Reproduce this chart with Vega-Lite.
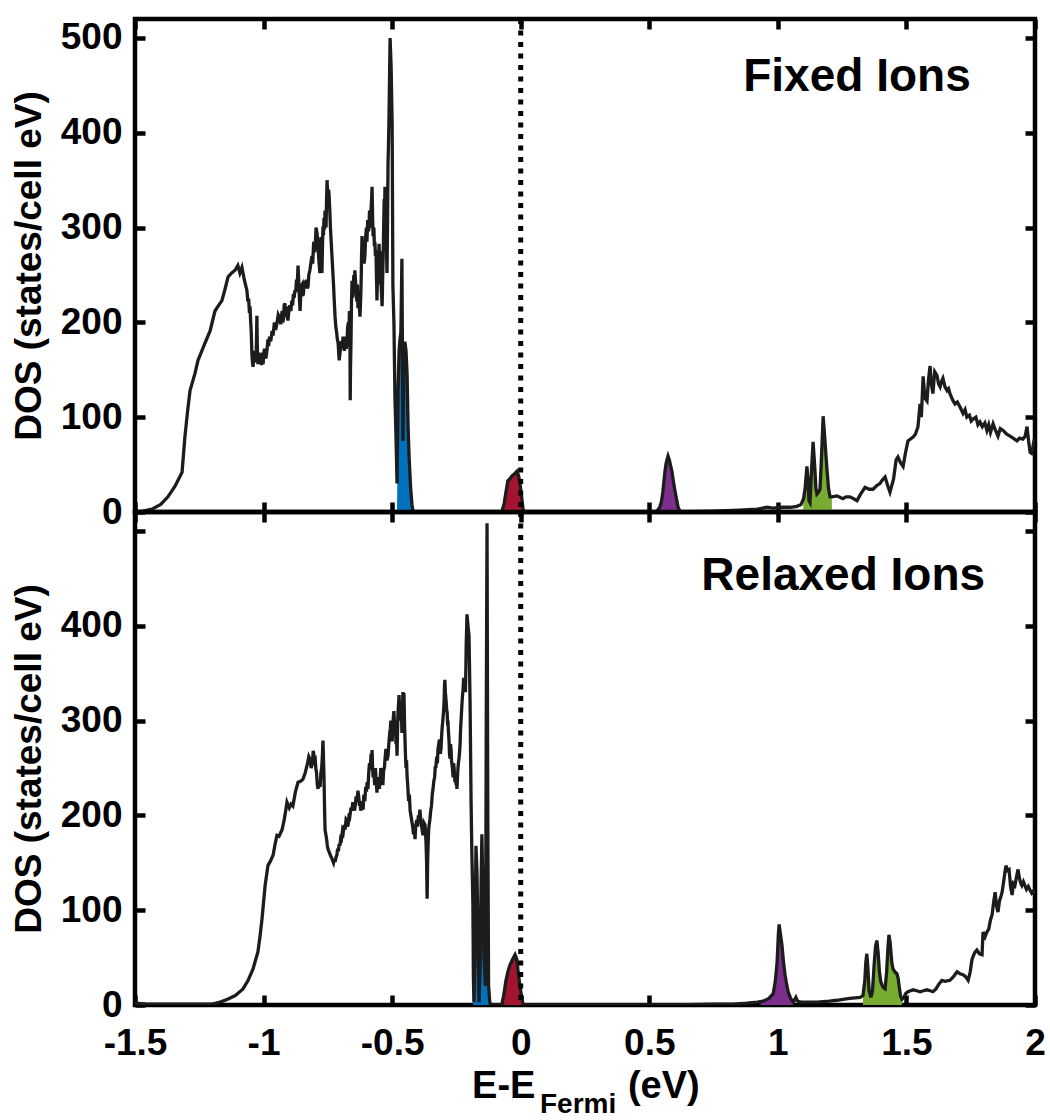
{
  "$schema": "https://vega.github.io/schema/vega-lite/v6.json",
  "background": "white",
  "padding": {"left": 8, "top": 14, "right": 12, "bottom": 8},
  "spacing": 0,
  "bounds": "flush",
  "config": {
    "concat": {"spacing": 0},
    "view": {"stroke": "black", "strokeWidth": 4.5},
    "font": "Liberation Sans",
    "axis": {
      "domain": false, "grid": false, "minExtent": 0,
      "tickColor": "black", "tickWidth": 4.5, "tickSize": 10, "offset": -10,
      "labelFont": "Liberation Sans", "labelFontSize": 37, "labelFontWeight": "bold", "labelColor": "black",
      "labelPadding": 13, "labelFlush": false, "labelOverlap": false,
      "titleFont": "Liberation Sans", "titleFontSize": 37, "titleFontWeight": "bold", "titleColor": "black"
    }
  },
  "datasets": {
    "fixed": [
      {"E":-1.5,"dos":0},{"E":-1.47,"dos":1},{"E":-1.434,"dos":3},{"E":-1.4,"dos":8},{"E":-1.372,"dos":16},{"E":-1.345,"dos":27},{"E":-1.317,"dos":42},{"E":-1.306,"dos":79},{"E":-1.296,"dos":105},{"E":-1.286,"dos":128},{"E":-1.267,"dos":146},{"E":-1.255,"dos":160},{"E":-1.24,"dos":170},{"E":-1.228,"dos":178},{"E":-1.208,"dos":191},{"E":-1.189,"dos":212},{"E":-1.175,"dos":218},{"E":-1.162,"dos":223},{"E":-1.15,"dos":235},{"E":-1.138,"dos":248},{"E":-1.125,"dos":252},{"E":-1.111,"dos":255},{"E":-1.1,"dos":260},{"E":-1.092,"dos":252},{"E":-1.084,"dos":258},{"E":-1.075,"dos":245},
      {"E":-1.065,"dos":234},{"E":-1.061,"dos":222},{"E":-1.058,"dos":225},{"E":-1.055,"dos":210},{"E":-1.053,"dos":217},{"E":-1.05,"dos":200},{"E":-1.048,"dos":190},{"E":-1.046,"dos":172},{"E":-1.045,"dos":164},{"E":-1.043,"dos":158},{"E":-1.041,"dos":153},{"E":-1.038,"dos":165},{"E":-1.036,"dos":158},{"E":-1.034,"dos":170},{"E":-1.031,"dos":158},{"E":-1.029,"dos":160},{"E":-1.026,"dos":207},{"E":-1.024,"dos":170},{"E":-1.022,"dos":156},{"E":-1.019,"dos":168},{"E":-1.016,"dos":158},{"E":-1.012,"dos":165},{"E":-1.008,"dos":155},{"E":-1.005,"dos":168},{"E":-1.002,"dos":156},{"E":-0.998,"dos":170},{"E":-0.995,"dos":172},{"E":-0.991,"dos":162},{"E":-0.987,"dos":170},{"E":-0.983,"dos":182},{"E":-0.98,"dos":175},{"E":-0.977,"dos":185},{"E":-0.972,"dos":180},{"E":-0.967,"dos":191},{"E":-0.963,"dos":186},{"E":-0.958,"dos":200},{"E":-0.953,"dos":192},{"E":-0.948,"dos":199},{"E":-0.943,"dos":208},{"E":-0.938,"dos":205},{"E":-0.933,"dos":198},{"E":-0.928,"dos":212},{"E":-0.925,"dos":200},{"E":-0.922,"dos":205},{"E":-0.92,"dos":218},{"E":-0.917,"dos":220},{"E":-0.914,"dos":210},{"E":-0.91,"dos":212},{"E":-0.907,"dos":205},{"E":-0.905,"dos":202},{"E":-0.901,"dos":214},{"E":-0.898,"dos":218},{"E":-0.894,"dos":212},{"E":-0.89,"dos":223},{"E":-0.887,"dos":218},{"E":-0.884,"dos":230},{"E":-0.881,"dos":226},{"E":-0.878,"dos":234},{"E":-0.875,"dos":232},{"E":-0.872,"dos":245},{"E":-0.869,"dos":240},{"E":-0.866,"dos":260},{"E":-0.864,"dos":248},{"E":-0.862,"dos":235},{"E":-0.86,"dos":222},{"E":-0.858,"dos":212},{"E":-0.854,"dos":238},{"E":-0.85,"dos":240},{"E":-0.848,"dos":228},{"E":-0.845,"dos":230},{"E":-0.842,"dos":244},{"E":-0.839,"dos":238},{"E":-0.836,"dos":236},{"E":-0.833,"dos":245},{"E":-0.83,"dos":236},{"E":-0.827,"dos":238},{"E":-0.824,"dos":250},{"E":-0.82,"dos":255},{"E":-0.816,"dos":262},{"E":-0.812,"dos":270},{"E":-0.809,"dos":262},{"E":-0.805,"dos":285},{"E":-0.802,"dos":274},{"E":-0.799,"dos":280},{"E":-0.796,"dos":300},{"E":-0.792,"dos":294},{"E":-0.789,"dos":282},{"E":-0.786,"dos":270},{"E":-0.784,"dos":262},{"E":-0.781,"dos":252},{"E":-0.779,"dos":270},{"E":-0.777,"dos":290},{"E":-0.775,"dos":270},{"E":-0.773,"dos":252},{"E":-0.771,"dos":280},{"E":-0.769,"dos":301},{"E":-0.767,"dos":292},{"E":-0.765,"dos":310},{"E":-0.763,"dos":298},{"E":-0.761,"dos":318},{"E":-0.759,"dos":310},{"E":-0.757,"dos":300},{"E":-0.755,"dos":330},{"E":-0.753,"dos":350},{"E":-0.751,"dos":335},{"E":-0.749,"dos":330},{"E":-0.747,"dos":340},{"E":-0.745,"dos":333},{"E":-0.742,"dos":315},{"E":-0.74,"dos":300},{"E":-0.737,"dos":285},{"E":-0.734,"dos":270},{"E":-0.731,"dos":255},{"E":-0.728,"dos":240},{"E":-0.725,"dos":222},{"E":-0.722,"dos":206},{"E":-0.719,"dos":195},{"E":-0.716,"dos":190},{"E":-0.713,"dos":182},{"E":-0.71,"dos":178},{"E":-0.708,"dos":168},{"E":-0.706,"dos":160},{"E":-0.703,"dos":167},{"E":-0.7,"dos":176},{"E":-0.697,"dos":180},{"E":-0.694,"dos":172},{"E":-0.691,"dos":185},{"E":-0.688,"dos":178},{"E":-0.686,"dos":170},{"E":-0.683,"dos":185},{"E":-0.68,"dos":182},{"E":-0.678,"dos":172},{"E":-0.676,"dos":178},{"E":-0.673,"dos":195},{"E":-0.67,"dos":200},{"E":-0.668,"dos":190},{"E":-0.666,"dos":212},{"E":-0.664,"dos":180},{"E":-0.663,"dos":118},{"E":-0.662,"dos":150},{"E":-0.66,"dos":180},{"E":-0.658,"dos":222},{"E":-0.656,"dos":244},{"E":-0.654,"dos":226},{"E":-0.652,"dos":234},{"E":-0.649,"dos":250},{"E":-0.647,"dos":240},{"E":-0.645,"dos":255},{"E":-0.642,"dos":242},{"E":-0.64,"dos":230},{"E":-0.637,"dos":222},{"E":-0.635,"dos":240},{"E":-0.633,"dos":215},{"E":-0.629,"dos":222},{"E":-0.625,"dos":206},{"E":-0.622,"dos":228},{"E":-0.62,"dos":250},{"E":-0.619,"dos":270},{"E":-0.617,"dos":291},{"E":-0.615,"dos":272},{"E":-0.612,"dos":280},{"E":-0.609,"dos":262},{"E":-0.606,"dos":270},{"E":-0.603,"dos":290},{"E":-0.6,"dos":300},{"E":-0.598,"dos":285},{"E":-0.595,"dos":308},{"E":-0.592,"dos":296},{"E":-0.59,"dos":300},{"E":-0.588,"dos":318},{"E":-0.586,"dos":312},{"E":-0.584,"dos":300},{"E":-0.582,"dos":320},{"E":-0.58,"dos":330},{"E":-0.578,"dos":343},{"E":-0.576,"dos":310},{"E":-0.574,"dos":291},{"E":-0.571,"dos":300},{"E":-0.569,"dos":280},{"E":-0.567,"dos":285},{"E":-0.565,"dos":270},{"E":-0.563,"dos":276},{"E":-0.561,"dos":250},{"E":-0.559,"dos":223},{"E":-0.557,"dos":250},{"E":-0.555,"dos":240},{"E":-0.553,"dos":265},{"E":-0.551,"dos":283},{"E":-0.549,"dos":265},{"E":-0.547,"dos":275},{"E":-0.545,"dos":255},{"E":-0.543,"dos":240},{"E":-0.541,"dos":228},{"E":-0.539,"dos":217},{"E":-0.537,"dos":245},{"E":-0.535,"dos":270},{"E":-0.533,"dos":300},{"E":-0.531,"dos":330},{"E":-0.529,"dos":320},{"E":-0.528,"dos":343},{"E":-0.526,"dos":325},{"E":-0.524,"dos":300},{"E":-0.522,"dos":280},{"E":-0.52,"dos":252},{"E":-0.518,"dos":300},{"E":-0.516,"dos":368},{"E":-0.514,"dos":390},{"E":-0.512,"dos":420},{"E":-0.51,"dos":460},{"E":-0.508,"dos":500},{"E":-0.504,"dos":470},{"E":-0.5,"dos":410},{"E":-0.497,"dos":238},{"E":-0.493,"dos":199},{"E":-0.489,"dos":120},{"E":-0.485,"dos":80},{"E":-0.481,"dos":30},{"E":-0.477,"dos":128},{"E":-0.473,"dos":170},{"E":-0.47,"dos":181},{"E":-0.466,"dos":190},{"E":-0.462,"dos":267},{"E":-0.458,"dos":75},{"E":-0.454,"dos":178},{"E":-0.45,"dos":178},{"E":-0.446,"dos":170},{"E":-0.442,"dos":146},{"E":-0.438,"dos":90},{"E":-0.434,"dos":58},{"E":-0.428,"dos":25},{"E":-0.423,"dos":8},{"E":-0.419,"dos":1},{"E":-0.41,"dos":0},{"E":-0.08,"dos":0},{"E":-0.073,"dos":1},{"E":-0.065,"dos":8},{"E":-0.058,"dos":20},{"E":-0.05,"dos":33},{"E":-0.042,"dos":35},{"E":-0.034,"dos":38},{"E":-0.025,"dos":40},{"E":-0.015,"dos":43},{"E":-0.008,"dos":38},{"E":-0.003,"dos":30},{"E":0.004,"dos":15},{"E":0.009,"dos":3},{"E":0.015,"dos":0},{"E":0.52,"dos":0},{"E":0.53,"dos":1},{"E":0.541,"dos":5},{"E":0.548,"dos":12},{"E":0.553,"dos":22},{"E":0.561,"dos":43},{"E":0.566,"dos":52},{"E":0.573,"dos":59},{"E":0.578,"dos":55},{"E":0.582,"dos":50},{"E":0.588,"dos":43},{"E":0.594,"dos":32},{"E":0.6,"dos":22},{"E":0.607,"dos":12},{"E":0.612,"dos":5},{"E":0.619,"dos":1},{"E":0.63,"dos":0},{"E":0.75,"dos":1},{"E":0.85,"dos":2},{"E":0.92,"dos":3},{"E":0.958,"dos":5},{"E":0.98,"dos":4},{"E":1.02,"dos":5},{"E":1.05,"dos":5},{"E":1.074,"dos":6},{"E":1.09,"dos":8},{"E":1.1,"dos":14},{"E":1.106,"dos":25},{"E":1.113,"dos":48},{"E":1.118,"dos":30},{"E":1.121,"dos":12},{"E":1.125,"dos":10},{"E":1.13,"dos":40},{"E":1.137,"dos":74},{"E":1.143,"dos":50},{"E":1.148,"dos":25},{"E":1.152,"dos":19},{"E":1.158,"dos":21},{"E":1.164,"dos":24},{"E":1.17,"dos":60},{"E":1.176,"dos":101},{"E":1.182,"dos":80},{"E":1.187,"dos":60},{"E":1.191,"dos":45},{"E":1.197,"dos":25},{"E":1.203,"dos":16},{"E":1.21,"dos":16},{"E":1.23,"dos":17},{"E":1.245,"dos":15},{"E":1.253,"dos":14},{"E":1.265,"dos":16},{"E":1.28,"dos":16},{"E":1.295,"dos":14},{"E":1.308,"dos":12},{"E":1.32,"dos":18},{"E":1.339,"dos":26},{"E":1.355,"dos":24},{"E":1.37,"dos":24},{"E":1.385,"dos":28},{"E":1.397,"dos":30},{"E":1.407,"dos":34},{"E":1.417,"dos":37},{"E":1.427,"dos":28},{"E":1.436,"dos":21},{"E":1.45,"dos":35},{"E":1.46,"dos":55},{"E":1.467,"dos":58},{"E":1.477,"dos":52},{"E":1.487,"dos":48},{"E":1.496,"dos":62},{"E":1.506,"dos":75},{"E":1.516,"dos":77},{"E":1.526,"dos":79},{"E":1.535,"dos":82},{"E":1.545,"dos":90},{"E":1.55,"dos":105},{"E":1.553,"dos":114},{"E":1.558,"dos":100},{"E":1.565,"dos":143},{"E":1.572,"dos":120},{"E":1.58,"dos":117},{"E":1.586,"dos":140},{"E":1.592,"dos":154},{"E":1.597,"dos":135},{"E":1.603,"dos":125},{"E":1.61,"dos":148},{"E":1.619,"dos":144},{"E":1.625,"dos":135},{"E":1.631,"dos":132},{"E":1.637,"dos":138},{"E":1.642,"dos":141},{"E":1.65,"dos":132},{"E":1.658,"dos":128},{"E":1.664,"dos":130},{"E":1.669,"dos":125},{"E":1.68,"dos":118},{"E":1.689,"dos":114},{"E":1.698,"dos":116},{"E":1.708,"dos":111},{"E":1.72,"dos":104},{"E":1.728,"dos":108},{"E":1.735,"dos":100},{"E":1.745,"dos":102},{"E":1.752,"dos":96},{"E":1.759,"dos":98},{"E":1.77,"dos":100},{"E":1.778,"dos":92},{"E":1.786,"dos":95},{"E":1.795,"dos":90},{"E":1.805,"dos":94},{"E":1.813,"dos":86},{"E":1.82,"dos":92},{"E":1.827,"dos":84},{"E":1.837,"dos":93},{"E":1.845,"dos":87},{"E":1.856,"dos":80},{"E":1.865,"dos":88},{"E":1.876,"dos":86},{"E":1.89,"dos":82},{"E":1.903,"dos":80},{"E":1.915,"dos":78},{"E":1.93,"dos":75},{"E":1.94,"dos":78},{"E":1.953,"dos":77},{"E":1.962,"dos":80},{"E":1.969,"dos":90},{"E":1.975,"dos":75},{"E":1.981,"dos":63},{"E":1.986,"dos":62},{"E":1.992,"dos":69},{"E":1.996,"dos":75},{"E":2.0,"dos":75}
    ],
    "fixedBands": [
      {"E":-0.481,"dos":0,"band":"blue"},{"E":-0.479,"dos":60,"band":"blue"},{"E":-0.477,"dos":128,"band":"blue"},{"E":-0.472,"dos":165,"band":"blue"},{"E":-0.466,"dos":175,"band":"blue"},{"E":-0.46,"dos":180,"band":"blue"},{"E":-0.454,"dos":178,"band":"blue"},{"E":-0.448,"dos":165,"band":"blue"},{"E":-0.442,"dos":140,"band":"blue"},{"E":-0.436,"dos":85,"band":"blue"},{"E":-0.43,"dos":40,"band":"blue"},{"E":-0.424,"dos":12,"band":"blue"},{"E":-0.419,"dos":0,"band":"blue"},
      {"E":-0.075,"dos":0,"band":"red"},{"E":-0.065,"dos":8,"band":"red"},{"E":-0.058,"dos":20,"band":"red"},{"E":-0.05,"dos":33,"band":"red"},{"E":-0.042,"dos":35,"band":"red"},{"E":-0.034,"dos":38,"band":"red"},{"E":-0.025,"dos":40,"band":"red"},{"E":-0.015,"dos":43,"band":"red"},{"E":-0.008,"dos":38,"band":"red"},{"E":-0.003,"dos":30,"band":"red"},{"E":0.004,"dos":15,"band":"red"},{"E":0.009,"dos":3,"band":"red"},{"E":0.012,"dos":0,"band":"red"},
      {"E":0.53,"dos":0,"band":"purple"},{"E":0.541,"dos":5,"band":"purple"},{"E":0.548,"dos":12,"band":"purple"},{"E":0.553,"dos":22,"band":"purple"},{"E":0.561,"dos":43,"band":"purple"},{"E":0.566,"dos":52,"band":"purple"},{"E":0.573,"dos":59,"band":"purple"},{"E":0.578,"dos":55,"band":"purple"},{"E":0.582,"dos":50,"band":"purple"},{"E":0.588,"dos":43,"band":"purple"},{"E":0.594,"dos":32,"band":"purple"},{"E":0.6,"dos":22,"band":"purple"},{"E":0.607,"dos":12,"band":"purple"},{"E":0.612,"dos":5,"band":"purple"},{"E":0.619,"dos":0,"band":"purple"},
      {"E":1.098,"dos":0,"band":"green"},{"E":1.1,"dos":14,"band":"green"},{"E":1.106,"dos":25,"band":"green"},{"E":1.113,"dos":48,"band":"green"},{"E":1.118,"dos":30,"band":"green"},{"E":1.121,"dos":12,"band":"green"},{"E":1.125,"dos":10,"band":"green"},{"E":1.13,"dos":40,"band":"green"},{"E":1.137,"dos":74,"band":"green"},{"E":1.143,"dos":50,"band":"green"},{"E":1.148,"dos":25,"band":"green"},{"E":1.152,"dos":19,"band":"green"},{"E":1.158,"dos":21,"band":"green"},{"E":1.164,"dos":24,"band":"green"},{"E":1.17,"dos":60,"band":"green"},{"E":1.176,"dos":101,"band":"green"},{"E":1.182,"dos":80,"band":"green"},{"E":1.187,"dos":60,"band":"green"},{"E":1.191,"dos":45,"band":"green"},{"E":1.197,"dos":25,"band":"green"},{"E":1.203,"dos":16,"band":"green"},{"E":1.21,"dos":16,"band":"green"}
    ],
    "relaxed": [
      {"E":-1.5,"dos":2},{"E":-1.45,"dos":1},{"E":-1.35,"dos":1},{"E":-1.25,"dos":1},{"E":-1.2,"dos":1},{"E":-1.169,"dos":3},{"E":-1.14,"dos":6},{"E":-1.11,"dos":10},{"E":-1.08,"dos":17},{"E":-1.06,"dos":26},{"E":-1.041,"dos":38},{"E":-1.022,"dos":56},{"E":-1.014,"dos":72},{"E":-1.006,"dos":91},{"E":-0.994,"dos":126},{"E":-0.983,"dos":147},{"E":-0.973,"dos":152},{"E":-0.963,"dos":158},{"E":-0.955,"dos":170},{"E":-0.948,"dos":179},{"E":-0.94,"dos":178},{"E":-0.928,"dos":185},{"E":-0.92,"dos":195},{"E":-0.914,"dos":205},{"E":-0.909,"dos":214},{"E":-0.9,"dos":208},{"E":-0.893,"dos":212},{"E":-0.886,"dos":210},{"E":-0.876,"dos":225},{"E":-0.866,"dos":235},{"E":-0.856,"dos":236},{"E":-0.847,"dos":238},{"E":-0.838,"dos":245},
      {"E":-0.829,"dos":255},{"E":-0.824,"dos":262},{"E":-0.819,"dos":259},{"E":-0.815,"dos":250},{"E":-0.81,"dos":255},{"E":-0.807,"dos":268},{"E":-0.805,"dos":265},{"E":-0.802,"dos":255},{"E":-0.8,"dos":263},{"E":-0.797,"dos":250},{"E":-0.794,"dos":245},{"E":-0.791,"dos":232},{"E":-0.788,"dos":228},{"E":-0.784,"dos":236},{"E":-0.78,"dos":230},{"E":-0.777,"dos":245},{"E":-0.774,"dos":250},{"E":-0.771,"dos":265},{"E":-0.769,"dos":279},{"E":-0.767,"dos":260},{"E":-0.765,"dos":240},{"E":-0.763,"dos":210},{"E":-0.761,"dos":185},{"E":-0.758,"dos":180},{"E":-0.755,"dos":175},{"E":-0.752,"dos":168},{"E":-0.749,"dos":164},{"E":-0.746,"dos":162},{"E":-0.743,"dos":160},{"E":-0.739,"dos":157},{"E":-0.735,"dos":155},{"E":-0.731,"dos":152},{"E":-0.728,"dos":150},{"E":-0.725,"dos":154},{"E":-0.722,"dos":151},{"E":-0.718,"dos":156},{"E":-0.715,"dos":158},{"E":-0.712,"dos":165},{"E":-0.709,"dos":162},{"E":-0.706,"dos":170},{"E":-0.703,"dos":168},{"E":-0.7,"dos":176},{"E":-0.697,"dos":175},{"E":-0.693,"dos":184},{"E":-0.69,"dos":182},{"E":-0.686,"dos":190},{"E":-0.683,"dos":185},{"E":-0.679,"dos":196},{"E":-0.676,"dos":195},{"E":-0.673,"dos":188},{"E":-0.67,"dos":192},{"E":-0.667,"dos":202},{"E":-0.664,"dos":200},{"E":-0.66,"dos":208},{"E":-0.657,"dos":205},{"E":-0.653,"dos":214},{"E":-0.65,"dos":210},{"E":-0.646,"dos":205},{"E":-0.643,"dos":212},{"E":-0.64,"dos":220},{"E":-0.637,"dos":214},{"E":-0.633,"dos":226},{"E":-0.63,"dos":220},{"E":-0.627,"dos":210},{"E":-0.625,"dos":213},{"E":-0.622,"dos":205},{"E":-0.619,"dos":208},{"E":-0.616,"dos":215},{"E":-0.613,"dos":206},{"E":-0.61,"dos":222},{"E":-0.606,"dos":215},{"E":-0.603,"dos":230},{"E":-0.6,"dos":225},{"E":-0.597,"dos":235},{"E":-0.594,"dos":228},{"E":-0.591,"dos":245},{"E":-0.588,"dos":255},{"E":-0.585,"dos":248},{"E":-0.582,"dos":265},{"E":-0.58,"dos":258},{"E":-0.578,"dos":269},{"E":-0.576,"dos":250},{"E":-0.574,"dos":240},{"E":-0.571,"dos":246},{"E":-0.568,"dos":232},{"E":-0.565,"dos":250},{"E":-0.563,"dos":240},{"E":-0.561,"dos":232},{"E":-0.559,"dos":224},{"E":-0.556,"dos":238},{"E":-0.553,"dos":240},{"E":-0.55,"dos":228},{"E":-0.547,"dos":236},{"E":-0.544,"dos":250},{"E":-0.541,"dos":245},{"E":-0.538,"dos":238},{"E":-0.536,"dos":232},{"E":-0.533,"dos":248},{"E":-0.53,"dos":250},{"E":-0.527,"dos":262},{"E":-0.524,"dos":270},{"E":-0.52,"dos":258},{"E":-0.516,"dos":263},{"E":-0.513,"dos":275},{"E":-0.51,"dos":285},{"E":-0.507,"dos":292},{"E":-0.505,"dos":300},{"E":-0.502,"dos":285},{"E":-0.5,"dos":278},{"E":-0.498,"dos":290},{"E":-0.497,"dos":295},{"E":-0.495,"dos":305},{"E":-0.493,"dos":310},{"E":-0.491,"dos":298},{"E":-0.489,"dos":290},{"E":-0.487,"dos":300},{"E":-0.485,"dos":275},{"E":-0.483,"dos":285},{"E":-0.481,"dos":263},{"E":-0.479,"dos":290},{"E":-0.477,"dos":310},{"E":-0.475,"dos":318},{"E":-0.473,"dos":327},{"E":-0.471,"dos":310},{"E":-0.47,"dos":300},{"E":-0.468,"dos":315},{"E":-0.466,"dos":300},{"E":-0.464,"dos":312},{"E":-0.462,"dos":287},{"E":-0.46,"dos":310},{"E":-0.458,"dos":330},{"E":-0.456,"dos":320},{"E":-0.454,"dos":329},{"E":-0.452,"dos":300},{"E":-0.45,"dos":280},{"E":-0.448,"dos":262},{"E":-0.446,"dos":250},{"E":-0.444,"dos":258},{"E":-0.442,"dos":242},{"E":-0.439,"dos":230},{"E":-0.436,"dos":215},{"E":-0.433,"dos":222},{"E":-0.43,"dos":205},{"E":-0.427,"dos":200},{"E":-0.423,"dos":193},{"E":-0.42,"dos":188},{"E":-0.417,"dos":180},{"E":-0.414,"dos":186},{"E":-0.411,"dos":175},{"E":-0.408,"dos":190},{"E":-0.404,"dos":195},{"E":-0.401,"dos":188},{"E":-0.398,"dos":200},{"E":-0.395,"dos":196},{"E":-0.392,"dos":206},{"E":-0.389,"dos":195},{"E":-0.386,"dos":190},{"E":-0.383,"dos":184},{"E":-0.38,"dos":179},{"E":-0.376,"dos":192},{"E":-0.372,"dos":190},{"E":-0.37,"dos":180},{"E":-0.368,"dos":170},{"E":-0.366,"dos":150},{"E":-0.364,"dos":112},{"E":-0.362,"dos":150},{"E":-0.36,"dos":170},{"E":-0.358,"dos":185},{"E":-0.356,"dos":190},{"E":-0.353,"dos":196},{"E":-0.35,"dos":205},{"E":-0.347,"dos":210},{"E":-0.344,"dos":222},{"E":-0.341,"dos":228},{"E":-0.338,"dos":236},{"E":-0.335,"dos":240},{"E":-0.332,"dos":252},{"E":-0.33,"dos":250},{"E":-0.328,"dos":258},{"E":-0.326,"dos":262},{"E":-0.324,"dos":255},{"E":-0.322,"dos":269},{"E":-0.319,"dos":275},{"E":-0.316,"dos":280},{"E":-0.313,"dos":265},{"E":-0.31,"dos":270},{"E":-0.308,"dos":282},{"E":-0.306,"dos":291},{"E":-0.303,"dos":300},{"E":-0.3,"dos":310},{"E":-0.298,"dos":320},{"E":-0.297,"dos":330},{"E":-0.296,"dos":338},{"E":-0.295,"dos":343},{"E":-0.293,"dos":330},{"E":-0.29,"dos":320},{"E":-0.288,"dos":312},{"E":-0.286,"dos":308},{"E":-0.284,"dos":295},{"E":-0.283,"dos":300},{"E":-0.281,"dos":288},{"E":-0.279,"dos":280},{"E":-0.277,"dos":265},{"E":-0.275,"dos":260},{"E":-0.273,"dos":275},{"E":-0.271,"dos":270},{"E":-0.269,"dos":258},{"E":-0.267,"dos":253},{"E":-0.265,"dos":248},{"E":-0.263,"dos":240},{"E":-0.261,"dos":255},{"E":-0.259,"dos":250},{"E":-0.257,"dos":240},{"E":-0.255,"dos":235},{"E":-0.253,"dos":240},{"E":-0.251,"dos":232},{"E":-0.25,"dos":236},{"E":-0.248,"dos":228},{"E":-0.246,"dos":240},{"E":-0.244,"dos":250},{"E":-0.242,"dos":256},{"E":-0.24,"dos":260},{"E":-0.238,"dos":266},{"E":-0.236,"dos":274},{"E":-0.234,"dos":290},{"E":-0.232,"dos":300},{"E":-0.23,"dos":310},{"E":-0.228,"dos":320},{"E":-0.226,"dos":328},{"E":-0.224,"dos":333},{"E":-0.222,"dos":345},{"E":-0.219,"dos":340},{"E":-0.217,"dos":335},{"E":-0.215,"dos":330},{"E":-0.213,"dos":360},{"E":-0.212,"dos":380},{"E":-0.21,"dos":400},{"E":-0.209,"dos":412},{"E":-0.205,"dos":400},{"E":-0.201,"dos":389},{"E":-0.197,"dos":320},{"E":-0.193,"dos":214},{"E":-0.19,"dos":160},{"E":-0.186,"dos":108},{"E":-0.184,"dos":30},{"E":-0.182,"dos":3},{"E":-0.178,"dos":60},{"E":-0.174,"dos":168},{"E":-0.17,"dos":140},{"E":-0.166,"dos":60},{"E":-0.162,"dos":3},{"E":-0.158,"dos":40},{"E":-0.154,"dos":130},{"E":-0.151,"dos":180},{"E":-0.147,"dos":120},{"E":-0.143,"dos":53},{"E":-0.137,"dos":20},{"E":-0.134,"dos":300},{"E":-0.131,"dos":508},{"E":-0.128,"dos":200},{"E":-0.125,"dos":20},{"E":-0.12,"dos":2},{"E":-0.11,"dos":0},{"E":-0.08,"dos":0},{"E":-0.073,"dos":1},{"E":-0.065,"dos":12},{"E":-0.058,"dos":25},{"E":-0.05,"dos":35},{"E":-0.042,"dos":42},{"E":-0.032,"dos":48},{"E":-0.022,"dos":53},{"E":-0.015,"dos":48},{"E":-0.01,"dos":35},{"E":-0.003,"dos":20},{"E":0.004,"dos":8},{"E":0.009,"dos":1},{"E":0.015,"dos":0},{"E":0.4,"dos":0},{"E":0.6,"dos":0},{"E":0.75,"dos":1},{"E":0.826,"dos":1},{"E":0.88,"dos":2},{"E":0.92,"dos":3},{"E":0.943,"dos":4},{"E":0.965,"dos":7},{"E":0.982,"dos":12},{"E":0.99,"dos":25},{"E":0.997,"dos":45},{"E":1.002,"dos":75},{"E":1.005,"dos":85},{"E":1.01,"dos":75},{"E":1.016,"dos":63},{"E":1.022,"dos":45},{"E":1.028,"dos":32},{"E":1.034,"dos":22},{"E":1.04,"dos":14},{"E":1.05,"dos":7},{"E":1.06,"dos":3},{"E":1.066,"dos":6},{"E":1.07,"dos":8},{"E":1.076,"dos":4},{"E":1.09,"dos":3},{"E":1.12,"dos":3},{"E":1.152,"dos":3},{"E":1.2,"dos":4},{"E":1.23,"dos":5},{"E":1.253,"dos":6},{"E":1.28,"dos":7},{"E":1.32,"dos":8},{"E":1.331,"dos":10},{"E":1.338,"dos":25},{"E":1.342,"dos":45},{"E":1.346,"dos":54},{"E":1.35,"dos":40},{"E":1.355,"dos":15},{"E":1.362,"dos":8},{"E":1.368,"dos":15},{"E":1.375,"dos":45},{"E":1.38,"dos":62},{"E":1.385,"dos":68},{"E":1.39,"dos":55},{"E":1.395,"dos":35},{"E":1.4,"dos":25},{"E":1.405,"dos":21},{"E":1.411,"dos":18},{"E":1.417,"dos":17},{"E":1.423,"dos":35},{"E":1.428,"dos":60},{"E":1.432,"dos":74},{"E":1.437,"dos":65},{"E":1.443,"dos":45},{"E":1.448,"dos":38},{"E":1.455,"dos":35},{"E":1.463,"dos":33},{"E":1.468,"dos":28},{"E":1.471,"dos":21},{"E":1.477,"dos":10},{"E":1.483,"dos":6},{"E":1.49,"dos":8},{"E":1.497,"dos":12},{"E":1.506,"dos":14},{"E":1.516,"dos":15},{"E":1.526,"dos":16},{"E":1.54,"dos":15},{"E":1.553,"dos":14},{"E":1.566,"dos":15},{"E":1.58,"dos":16},{"E":1.592,"dos":15},{"E":1.603,"dos":14},{"E":1.615,"dos":17},{"E":1.626,"dos":22},{"E":1.638,"dos":26},{"E":1.65,"dos":25},{"E":1.669,"dos":26},{"E":1.683,"dos":30},{"E":1.697,"dos":35},{"E":1.708,"dos":33},{"E":1.72,"dos":32},{"E":1.73,"dos":30},{"E":1.74,"dos":26},{"E":1.748,"dos":35},{"E":1.755,"dos":48},{"E":1.765,"dos":55},{"E":1.774,"dos":58},{"E":1.784,"dos":54},{"E":1.794,"dos":53},{"E":1.798,"dos":77},{"E":1.806,"dos":72},{"E":1.813,"dos":77},{"E":1.82,"dos":80},{"E":1.827,"dos":90},{"E":1.833,"dos":95},{"E":1.84,"dos":110},{"E":1.845,"dos":119},{"E":1.85,"dos":105},{"E":1.856,"dos":98},{"E":1.862,"dos":110},{"E":1.868,"dos":115},{"E":1.872,"dos":119},{"E":1.878,"dos":130},{"E":1.883,"dos":140},{"E":1.887,"dos":147},{"E":1.893,"dos":142},{"E":1.899,"dos":143},{"E":1.905,"dos":125},{"E":1.911,"dos":116},{"E":1.916,"dos":128},{"E":1.922,"dos":126},{"E":1.928,"dos":135},{"E":1.934,"dos":143},{"E":1.94,"dos":133},{"E":1.945,"dos":128},{"E":1.949,"dos":126},{"E":1.955,"dos":130},{"E":1.961,"dos":126},{"E":1.967,"dos":122},{"E":1.974,"dos":125},{"E":1.981,"dos":121},{"E":1.987,"dos":118},{"E":1.993,"dos":120},{"E":2.0,"dos":117}
    ],
    "relaxedBands": [
      {"E":-0.186,"dos":0,"band":"blue"},{"E":-0.182,"dos":40,"band":"blue"},{"E":-0.178,"dos":90,"band":"blue"},{"E":-0.174,"dos":120,"band":"blue"},{"E":-0.17,"dos":100,"band":"blue"},{"E":-0.166,"dos":50,"band":"blue"},{"E":-0.162,"dos":3,"band":"blue"},{"E":-0.158,"dos":40,"band":"blue"},{"E":-0.154,"dos":130,"band":"blue"},{"E":-0.151,"dos":170,"band":"blue"},{"E":-0.147,"dos":120,"band":"blue"},{"E":-0.143,"dos":100,"band":"blue"},{"E":-0.138,"dos":60,"band":"blue"},{"E":-0.131,"dos":40,"band":"blue"},{"E":-0.125,"dos":10,"band":"blue"},{"E":-0.12,"dos":0,"band":"blue"},
      {"E":-0.075,"dos":0,"band":"red"},{"E":-0.065,"dos":12,"band":"red"},{"E":-0.058,"dos":25,"band":"red"},{"E":-0.05,"dos":35,"band":"red"},{"E":-0.042,"dos":42,"band":"red"},{"E":-0.032,"dos":48,"band":"red"},{"E":-0.022,"dos":53,"band":"red"},{"E":-0.015,"dos":48,"band":"red"},{"E":-0.01,"dos":35,"band":"red"},{"E":-0.003,"dos":20,"band":"red"},{"E":0.004,"dos":8,"band":"red"},{"E":0.009,"dos":1,"band":"red"},{"E":0.012,"dos":0,"band":"red"},
      {"E":0.93,"dos":0,"band":"purple"},{"E":0.943,"dos":4,"band":"purple"},{"E":0.965,"dos":7,"band":"purple"},{"E":0.982,"dos":12,"band":"purple"},{"E":0.99,"dos":25,"band":"purple"},{"E":0.997,"dos":45,"band":"purple"},{"E":1.002,"dos":75,"band":"purple"},{"E":1.005,"dos":85,"band":"purple"},{"E":1.01,"dos":75,"band":"purple"},{"E":1.016,"dos":63,"band":"purple"},{"E":1.022,"dos":45,"band":"purple"},{"E":1.028,"dos":32,"band":"purple"},{"E":1.034,"dos":22,"band":"purple"},{"E":1.04,"dos":14,"band":"purple"},{"E":1.05,"dos":7,"band":"purple"},{"E":1.06,"dos":3,"band":"purple"},{"E":1.062,"dos":0,"band":"purple"},
      {"E":1.331,"dos":0,"band":"green"},{"E":1.3311,"dos":10,"band":"green"},{"E":1.338,"dos":25,"band":"green"},{"E":1.342,"dos":45,"band":"green"},{"E":1.346,"dos":54,"band":"green"},{"E":1.35,"dos":40,"band":"green"},{"E":1.355,"dos":15,"band":"green"},{"E":1.362,"dos":8,"band":"green"},{"E":1.368,"dos":15,"band":"green"},{"E":1.375,"dos":45,"band":"green"},{"E":1.38,"dos":62,"band":"green"},{"E":1.385,"dos":68,"band":"green"},{"E":1.39,"dos":55,"band":"green"},{"E":1.395,"dos":35,"band":"green"},{"E":1.4,"dos":25,"band":"green"},{"E":1.405,"dos":21,"band":"green"},{"E":1.411,"dos":18,"band":"green"},{"E":1.417,"dos":17,"band":"green"},{"E":1.423,"dos":35,"band":"green"},{"E":1.428,"dos":60,"band":"green"},{"E":1.432,"dos":74,"band":"green"},{"E":1.437,"dos":65,"band":"green"},{"E":1.443,"dos":45,"band":"green"},{"E":1.448,"dos":38,"band":"green"},{"E":1.455,"dos":35,"band":"green"},{"E":1.463,"dos":33,"band":"green"},{"E":1.468,"dos":28,"band":"green"},{"E":1.471,"dos":21,"band":"green"},{"E":1.477,"dos":10,"band":"green"},{"E":1.483,"dos":6,"band":"green"}
    ]
  },
  "vconcat": [
    {
      "width": 900, "height": 493,
      "resolve": {"axis": {"x": "independent", "y": "independent"}},
      "layer": [
        {
          "data": {"name": "fixedBands"},
          "mark": {"type": "area", "clip": true},
          "encoding": {
            "x": {"field": "E", "type": "quantitative", "scale": {"domain": [-1.5, 2], "nice": false}, "axis": {"orient": "bottom", "values": [-1.5,-1,-0.5,0,0.5,1,1.5,2], "labels": false, "title": null}},
            "y": {"field": "dos", "type": "quantitative", "stack": null, "scale": {"domain": [0, 520], "nice": false}, "axis": {"orient": "left", "values": [0,100,200,300,400,500], "title": "DOS (states/cell eV)", "titlePadding": 12}},
            "color": {"field": "band", "type": "nominal", "scale": {"domain": ["blue","red","purple","green"], "range": ["#0072BD","#A2142F","#7E2F8E","#77AC30"]}, "legend": null}
          }
        },
        {
          "data": {"name": "fixed"},
          "mark": {"type": "line", "color": "#1c1c1c", "strokeWidth": 3.3, "clip": true},
          "encoding": {
            "x": {"field": "E", "type": "quantitative", "scale": {"domain": [-1.5, 2], "nice": false}, "axis": {"orient": "top", "values": [-1.5,-1,-0.5,0,0.5,1,1.5,2], "labels": false, "title": null}},
            "y": {"field": "dos", "type": "quantitative", "scale": {"domain": [0, 520], "nice": false}, "axis": {"orient": "right", "values": [0,100,200,300,400,500], "labels": false, "title": null}}
          }
        },
        {
          "data": {"values": [{}]},
          "mark": {"type": "rule", "color": "black", "strokeWidth": 5, "strokeDash": [5, 6.5]},
          "encoding": {"x": {"datum": 0, "axis": null}}
        },
        {
          "data": {"values": [{}]},
          "mark": {"type": "text", "text": "Fixed Ions", "align": "right", "baseline": "alphabetic", "fontSize": 46, "fontWeight": "bold", "font": "Liberation Sans", "color": "black"},
          "encoding": {"x": {"datum": 1.75, "axis": null}, "y": {"datum": 444, "axis": null}}
        }
      ]
    },
    {
      "width": 900, "height": 493,
      "resolve": {"axis": {"x": "independent", "y": "independent"}},
      "layer": [
        {
          "data": {"name": "relaxedBands"},
          "mark": {"type": "area", "clip": true},
          "encoding": {
            "x": {"field": "E", "type": "quantitative", "scale": {"domain": [-1.5, 2], "nice": false}, "axis": {"orient": "bottom", "values": [-1.5,-1,-0.5,0,0.5,1,1.5,2], "labelExpr": "'' + datum.value", "title": null, "labelPadding": 20}},
            "y": {"field": "dos", "type": "quantitative", "stack": null, "scale": {"domain": [0, 520], "nice": false}, "axis": {"orient": "left", "values": [0,100,200,300,400,500], "labelExpr": "datum.value == 500 ? '' : datum.label", "title": "DOS (states/cell eV)", "titlePadding": 12}},
            "color": {"field": "band", "type": "nominal", "scale": {"domain": ["blue","red","purple","green"], "range": ["#0072BD","#A2142F","#7E2F8E","#77AC30"]}, "legend": null}
          }
        },
        {
          "data": {"name": "relaxed"},
          "mark": {"type": "line", "color": "#1c1c1c", "strokeWidth": 3.3, "clip": true},
          "encoding": {
            "x": {"field": "E", "type": "quantitative", "scale": {"domain": [-1.5, 2], "nice": false}, "axis": {"orient": "top", "values": [-1.5,-1,-0.5,0,0.5,1,1.5,2], "labels": false, "title": null}},
            "y": {"field": "dos", "type": "quantitative", "scale": {"domain": [0, 520], "nice": false}, "axis": {"orient": "right", "values": [0,100,200,300,400,500], "labels": false, "title": null}}
          }
        },
        {
          "data": {"values": [{}]},
          "mark": {"type": "rule", "color": "black", "strokeWidth": 5, "strokeDash": [5, 6.5]},
          "encoding": {"x": {"datum": 0, "axis": null}}
        },
        {
          "data": {"values": [{}]},
          "mark": {"type": "text", "text": "Relaxed Ions", "align": "right", "baseline": "alphabetic", "fontSize": 46, "fontWeight": "bold", "font": "Liberation Sans", "color": "black"},
          "encoding": {"x": {"datum": 1.806, "axis": null}, "y": {"datum": 438, "axis": null}}
        },
        {
          "data": {"values": [{}]},
          "mark": {"type": "text", "text": "E-E", "align": "left", "baseline": "alphabetic", "fontSize": 38, "fontWeight": "bold", "font": "Liberation Sans", "color": "black", "clip": false},
          "encoding": {"x": {"datum": -0.189, "axis": null}, "y": {"datum": -98, "axis": null}}
        },
        {
          "data": {"values": [{}]},
          "mark": {"type": "text", "text": "Fermi", "align": "left", "baseline": "alphabetic", "fontSize": 28, "fontWeight": "bold", "font": "Liberation Sans", "color": "black", "clip": false},
          "encoding": {"x": {"datum": 0.075, "axis": null}, "y": {"datum": -114, "axis": null}}
        },
        {
          "data": {"values": [{}]},
          "mark": {"type": "text", "text": "(eV)", "align": "left", "baseline": "alphabetic", "fontSize": 38, "fontWeight": "bold", "font": "Liberation Sans", "color": "black", "clip": false},
          "encoding": {"x": {"datum": 0.417, "axis": null}, "y": {"datum": -98, "axis": null}}
        }
      ]
    }
  ]
}
